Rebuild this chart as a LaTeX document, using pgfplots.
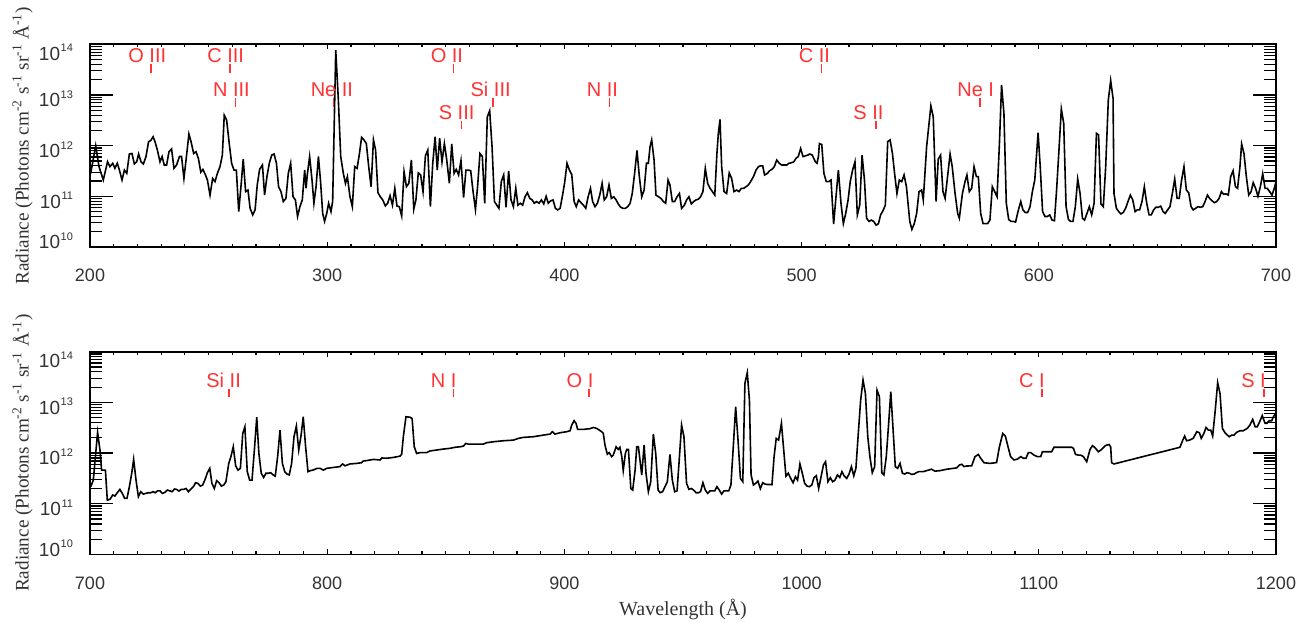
\documentclass[border=0pt]{standalone}
\usepackage{pgfplots}
\pgfplotsset{compat=1.18}
\usepackage{fontspec}
\setmainfont{Liberation Sans}
\newfontfamily\seriffont{Liberation Serif}
\definecolor{lab}{RGB}{255,51,51}
\definecolor{txt}{RGB}{51,51,51}

\newcommand{\ytl}[2]{\raisebox{#1}[0pt][0pt]{10\kern0.3pt\raisebox{4.2pt}{\fontsize{5.5}{6}\selectfont #2}}}
\newcommand{\ionmark}[3]{%
  \coordinate (P) at ({axis cs:#1,1e12} |- {rel axis cs:0,#2});
  \draw[lab, line width=0.85pt] ([yshift=-0.8pt]P) -- ([yshift=-5pt]P);
  \node[lab, anchor=base west, inner sep=0pt, font=\fontsize{10}{12}\selectfont] at ([xshift=-11.5pt]P) {#3};
}

\begin{document}
\begin{tikzpicture}
\begin{axis}[at={(45pt,-22.15pt)}, anchor=north west,
  scale only axis, width=593pt, height=101.35pt,
  ymode=log, ymin=1e10, ymax=1e14,
  ytick={1e10,1e11,1e12,1e13,1e14},
  yticklabels={\ytl{-0.9pt}{10},\ytl{-5.9pt}{11},\ytl{-5.9pt}{12},\ytl{-5.9pt}{13},\ytl{-7.9pt}{14}},
  minor ytick={2e10,3e10,4e10,5e10,6e10,7e10,8e10,9e10,2e11,3e11,4e11,5e11,6e11,7e11,8e11,9e11,2e12,3e12,4e12,5e12,6e12,7e12,8e12,9e12,2e13,3e13,4e13,5e13,6e13,7e13,8e13,9e13},
  major tick length=11.5pt, minor tick length=5.8pt,
  xtick style={/pgfplots/major tick length=2.5pt, /pgfplots/minor tick length=1.6pt},
  minor x tick num=9,
  axis line style={line width=0.8pt},
  tick style={line width=0.6pt, black},
  tick label style={font=\fontsize{9}{10}\selectfont, text=txt},
  xticklabel shift=7.5pt,
  yticklabel style={xshift=-5pt, font=\fontsize{9.5}{10}\selectfont},
  ylabel={\seriffont Radiance (Photons cm\textsuperscript{-2} s\textsuperscript{-1} sr\textsuperscript{-1} Å\textsuperscript{-1})},
  ylabel style={at={(axis description cs:-0.0569,0.5)}, anchor=center, font=\fontsize{9.6}{12}\selectfont, text=txt},
  xmin=200, xmax=700, xtick={200,300,400,500,600,700},
  xticklabels={200,300,400,500,600,700}]
\addplot[black, line width=0.8pt, mark=none] coordinates {
(200.3,2.84e11) (202.4,1.0e12) (203.8,3.85e11) (205.6,2.1e11) (207.4,4.83e11) (208.4,3.85e11) (209.6,4.48e11) (210.5,3.57e11) (211.5,4.5e11) (212.4,3.3e11) (213.5,2.1e11) (214.5,3.3e11) (215.5,2.84e11) (216.6,6.85e11) (217.7,7.0e11) (218.7,4.35e11) (219.7,4.83e11) (220.5,6.85e11) (221.5,4.8e11) (222.5,4.35e11) (223.6,6.07e11) (224.7,1.2e12) (225.6,1.26e12) (226.6,1.5e12) (227.4,1.2e12) (228.4,8.2e11) (229.5,4.8e11) (230.4,6.1e11) (231.3,4.15e11) (232.3,4.15e11) (233.3,7.6e11) (234.4,8.6e11) (235.4,3.57e11) (236.5,4.15e11) (237.7,6.1e11) (238.6,6.1e11) (239.6,2.26e11) (240.8,7.0e11) (241.7,1.7e12) (242.6,1.2e12) (243.7,7.0e11) (244.7,7.6e11) (245.7,5.6e11) (246.7,3.0e11) (247.6,3.4e11) (248.6,2.7e11) (249.5,2.1e11) (250.6,1.06e11) (251.7,2.26e11) (252.7,1.95e11) (253.7,2.84e11) (254.8,3.85e11) (255.8,6.5e11) (256.6,4.0e12) (257.6,3.2e12) (258.7,1.1e12) (259.7,4.5e11) (260.7,3.3e11) (261.7,3.3e11) (262.7,5.0e10) (263.7,1.67e11) (264.6,5.4e11) (265.6,1.24e11) (266.6,1.33e11) (267.5,5.8e10) (268.6,4.3e10) (269.6,5.4e10) (270.5,1.67e11) (271.5,3.4e11) (272.7,4.15e11) (273.6,1.06e11) (274.6,2.45e11) (275.6,4.5e11) (276.6,6.5e11) (277.6,6.85e11) (278.6,4.5e11) (279.5,1.55e11) (280.5,1.24e11) (281.5,7.9e10) (282.6,9.1e10) (283.6,2.84e11) (284.6,4.5e11) (285.6,9.8e10) (286.6,8.5e10) (287.5,4.0e10) (288.5,6.25e10) (289.5,8.5e10) (290.5,3.3e11) (291.1,1.44e11) (291.6,2.64e11) (292.6,6.1e11) (293.6,2.1e11) (294.4,7.3e10) (295.3,1.55e11) (296.3,6.1e11)
(297.2,1.95e11) (298.1,4.6e10) (298.9,3.2e10) (299.8,4.6e10) (300.6,7.3e10) (301.6,5.0e10) (302.3,8.0e10) (303.6,7.7e13) (304.7,8.0e12) (305.7,6.1e11) (306.8,2.84e11) (307.7,1.8e11) (308.5,2.45e11) (309.6,9.8e10) (310.6,6.25e10) (311.6,3.85e11) (312.6,3.57e11) (313.6,7.0e11) (314.5,1.46e12) (315.5,1.3e12) (316.5,1.1e12) (317.5,3.85e11) (318.5,1.55e11) (319.5,1.3e12) (320.4,8.2e11) (321.4,1.18e11) (322.4,9.8e10) (323.4,8.5e10) (324.5,6.5e10) (325.5,7.3e10) (326.5,1.03e11) (327.5,6.7e10) (328.5,1.44e11) (329.4,6.45e10) (330.4,6.25e10) (331.4,4.1e10) (332.4,3.07e11) (333.4,1.55e11) (334.4,1.8e11) (335.5,5.2e11) (336.5,5.6e10) (337.4,8.5e10) (338.4,2.9e11) (339.4,2.64e11) (340.4,1.24e11) (341.4,6.3e11) (342.4,8.2e11) (343.5,6.25e10) (344.5,4.5e11) (345.5,1.5e12) (346.4,3.3e11) (347.4,1.4e12) (348.4,4.8e11) (349.4,1.1e12) (350.4,5.2e11) (351.5,1.8e11) (352.5,1.08e12) (353.5,2.84e11) (354.4,3.4e11) (355.4,2.64e11) (356.4,5.06e11) (357.5,9.5e10) (358.5,3.3e11) (359.5,3.3e11) (360.5,3.2e11) (361.5,1.24e11) (362.5,5.5e10) (363.4,1.55e11) (364.4,7.0e11) (365.4,6.1e11) (366.4,7.3e10) (367.5,3.7e12) (368.5,4.9e12) (369.5,9.5e11) (370.5,7.9e10) (371.5,6.7e10) (372.4,5.8e10) (373.4,1.95e11) (374.4,2.64e11) (375.4,6.1e10) (376.5,3.16e11) (377.5,8.5e10) (378.5,6.25e10) (379.5,1.44e11) (380.4,6.7e10) (381.4,7.3e10) (382.4,6.7e10) (383.4,9.8e10) (384.4,1.18e11) (385.4,9.1e10) (386.4,8.5e10) (387.3,7.3e10) (388.3,7.9e10) (389.3,7.3e10) (390.3,8.5e10) (391.3,7.1e10) (392.3,1.0e11) (393.2,7.3e10) (394.2,8.1e10) (395.2,8.5e10) (396.2,5.8e10) (397.2,5.4e10) (398.2,5.8e10) (399.1,9.8e10) (400.1,1.86e11) (401.1,4.5e11) (402.1,3.3e11) (403.1,2.7e11) (404.1,7.9e10) (405.0,6.25e10) (406.0,8.5e10) (407.0,7.5e10) (408.0,6.7e10) (409.0,5.8e10) (410.0,9.8e10) (411.0,1.44e11) (411.9,7.9e10) (412.9,6.25e10) (413.9,7.3e10) (414.9,1.06e11) (415.9,1.8e11) (416.8,8.5e10) (417.8,9.8e10) (418.8,1.67e11) (419.8,9.1e10) (420.8,9.8e10) (421.8,8.5e10) (422.7,7.1e10) (423.7,6.1e10) (424.7,5.8e10) (425.7,5.8e10) (426.7,6.25e10) (427.7,7.3e10) (428.6,1.14e11) (429.6,2.84e11) (430.6,8.0e11) (431.6,2.45e11) (432.6,9.8e10) (433.6,1.33e11) (434.6,4.5e11) (435.4,4.5e11) (436.1,9.5e11) (436.8,1.3e12) (437.8,5.2e11)
(438.6,1.06e11) (439.7,9.8e10) (440.7,9.1e10) (441.7,7.9e10) (442.7,7.3e10) (443.7,2.1e11) (444.5,1.67e11) (445.5,7.9e10) (446.5,7.9e10) (447.5,9.8e10) (448.5,1.14e11) (449.4,5.8e10) (450.6,6.7e10) (451.5,8.5e10) (452.5,9.8e10) (453.5,7.1e10) (454.5,7.9e10) (455.5,8.5e10) (456.5,8.8e10) (457.4,9.8e10) (458.4,1.24e11) (459.4,3.57e11) (460.4,1.8e11) (461.4,1.44e11) (462.4,1.24e11) (463.4,1.06e11) (464.3,7.0e11) (464.9,1.75e12) (465.6,3.3e12) (466.3,3.85e11) (467.3,1.24e11) (468.4,1.14e11) (469.5,2.9e11) (470.5,2.26e11) (471.5,1.24e11) (472.6,1.33e11) (473.6,1.24e11) (474.6,1.44e11) (475.6,1.44e11) (476.6,1.55e11) (477.5,1.67e11) (478.5,1.95e11) (479.7,2.45e11) (480.8,3.3e11) (481.8,3.85e11) (482.7,4.0e11) (483.6,4.0e11) (484.4,2.64e11) (485.6,2.84e11) (486.5,3.2e11) (487.5,3.4e11) (488.5,3.85e11) (489.5,5.2e11) (490.6,4.5e11) (491.6,4.15e11) (492.6,4.15e11) (493.7,4.15e11) (494.7,4.5e11) (495.7,4.6e11) (496.7,4.8e11) (497.6,5.6e11) (498.6,6.1e11) (499.6,8.8e11) (500.6,6.1e11) (501.6,6.3e11) (502.6,6.5e11) (503.5,6.85e11) (504.5,6.5e11) (505.8,4.8e11) (506.5,4.5e11) (507.1,6.1e11) (507.5,1.1e12) (508.5,1.05e12) (509.4,2.84e11) (510.4,1.95e11) (511.4,1.95e11) (512.4,2.1e11) (513.5,2.85e10) (514.5,9.8e10) (515.5,3.3e11) (516.6,7.3e10) (517.6,2.9e10) (518.6,4.6e10) (519.6,8.5e10) (520.5,1.95e11) (521.5,3.3e11) (522.5,4.8e11) (523.5,4.3e10) (524.5,6.7e10) (525.5,6.5e11) (526.5,2.1e11) (527.4,3.7e10) (528.4,3.2e10) (529.4,3.4e10) (530.4,3.2e10) (531.4,2.7e10) (532.4,2.9e10) (533.3,4.3e10) (534.3,5.2e10) (535.3,6.7e10) (536.3,1.2e12) (537.3,1.3e12) (538.3,7.0e11) (539.2,2.84e11) (540.2,1.14e11) (541.2,2.1e11) (542.2,1.95e11) (543.2,2.64e11) (544.2,1.55e11) (545.6,3.2e10) (546.5,2.23e10) (547.5,2.9e10) (548.5,4.6e10) (549.5,1.24e11) (550.6,1.33e11) (551.3,8.5e10) (552.7,9.5e11) (554.5,6.1e12) (555.5,3.7e12) (556.7,7.9e10) (557.6,5.4e11) (558.6,6.5e11) (559.6,1.24e11) (560.5,9.1e10) (562.6,6.85e11) (563.5,3.85e11) (564.7,1.14e11) (565.8,4.6e10) (566.5,3.7e10) (567.8,1.14e11) (568.9,1.95e11)
(569.7,2.64e11) (570.7,1.24e11) (571.7,1.44e11) (572.7,3.85e11) (573.7,2.45e11) (574.5,2.45e11) (575.5,4.6e10) (576.5,2.9e10) (577.5,2.9e10) (578.4,2.9e10) (579.4,3.4e10) (580.4,1.55e11) (581.4,1.24e11) (582.4,9.8e10) (583.4,1.1e12) (584.3,1.57e13) (585.3,4.35e12) (586.3,7.3e10) (587.3,3.5e10) (588.3,3.2e10) (589.3,3.2e10) (590.2,3.1e10) (591.4,5.4e10) (592.4,7.9e10) (593.3,5.4e10) (594.3,4.8e10) (595.3,4.8e10) (596.3,6.25e10) (597.3,1.24e11) (598.3,2.1e11) (599.7,1.8e12) (600.6,3.85e11) (601.6,5.0e10) (602.6,4.0e10) (603.6,4.0e10) (604.6,4.3e10) (605.6,3.4e10) (606.6,3.3e10) (607.5,1.33e11) (608.5,8.2e11) (609.5,5.3e12) (610.5,2.76e12) (611.5,6.25e10) (612.5,3.5e10) (613.4,3.2e10) (614.4,3.2e10) (615.4,6.25e10) (616.4,2.2e11) (617.4,1.14e11) (618.4,3.7e10) (619.3,3.4e10) (620.3,4.6e10) (621.3,6.25e10) (622.3,4.3e10) (623.3,7.3e10) (624.3,1.75e12) (625.2,1.63e12) (626.2,7.1e10) (627.2,6.25e10) (628.2,3.85e11) (629.3,7.9e12) (630.3,1.92e13) (631.3,8.6e12) (631.7,1.14e11) (632.7,5.8e10) (633.7,5.0e10) (634.6,4.5e10) (635.6,4.8e10) (636.6,5.8e10) (637.6,7.9e10) (638.6,1.06e11) (639.6,8.5e10) (640.6,5.0e10) (641.5,5.4e10) (642.5,5.4e10) (643.5,7.9e10) (644.5,1.55e11) (645.5,7.3e10) (646.5,4.3e10) (647.4,4.3e10) (648.4,5.4e10) (649.4,6.1e10) (650.4,6.1e10) (651.4,6.4e10) (652.4,5.0e10) (653.3,4.6e10) (654.3,5.4e10) (655.3,6.25e10) (656.3,1.14e11) (657.3,2.2e11) (658.3,9.1e10) (659.2,9.1e10) (660.2,2.1e11) (661.2,3.85e11) (662.2,1.33e11) (663.2,1.18e11) (664.2,6.25e10) (665.1,5.4e10) (666.1,5.8e10) (667.1,6.25e10) (668.1,6.1e10) (669.1,6.25e10) (670.1,7.9e10) (671.1,1.06e11) (672.0,9.1e10) (673.0,8.2e10) (674.0,7.5e10) (675.0,7.9e10) (676.0,9.1e10) (677.0,1.24e11) (677.9,1.1e11) (678.9,1.12e11) (679.9,1.06e11) (680.9,2.45e11) (681.9,3.2e11) (682.9,1.55e11) (683.8,1.44e11) (684.8,3.85e11) (685.5,1.08e12) (686.5,7.0e11) (687.5,2.45e11) (688.5,1.06e11) (689.5,1.24e11) (690.4,1.86e11) (691.4,1.44e11) (692.4,1.0e11) (693.4,1.55e11) (694.4,2.8e11) (695.4,1.44e11) (696.3,1.44e11) (697.3,1.24e11) (698.3,1.06e11) (699.2,1.4e11) (700.0,1.95e11)
};
\ionmark{225.7}{0.909}{O III}
\ionmark{259.0}{0.909}{C III}
\ionmark{261.4}{0.741}{N III}
\ionmark{302.6}{0.741}{Ne II}
\ionmark{353.2}{0.909}{O II}
\ionmark{356.6}{0.631}{S III}
\ionmark{370.0}{0.741}{Si III}
\ionmark{419.0}{0.741}{N II}
\ionmark{508.4}{0.909}{C II}
\ionmark{531.4}{0.631}{S II}
\ionmark{575.2}{0.741}{Ne I}
\end{axis}

\begin{axis}[at={(45pt,-175.85pt)}, anchor=north west,
  scale only axis, width=593pt, height=101.35pt,
  ymode=log, ymin=1e10, ymax=1e14,
  ytick={1e10,1e11,1e12,1e13,1e14},
  yticklabels={\ytl{-0.9pt}{10},\ytl{-5.9pt}{11},\ytl{-5.9pt}{12},\ytl{-5.9pt}{13},\ytl{-7.9pt}{14}},
  minor ytick={2e10,3e10,4e10,5e10,6e10,7e10,8e10,9e10,2e11,3e11,4e11,5e11,6e11,7e11,8e11,9e11,2e12,3e12,4e12,5e12,6e12,7e12,8e12,9e12,2e13,3e13,4e13,5e13,6e13,7e13,8e13,9e13},
  major tick length=11.5pt, minor tick length=5.8pt,
  xtick style={/pgfplots/major tick length=2.5pt, /pgfplots/minor tick length=1.6pt},
  minor x tick num=9,
  axis line style={line width=0.8pt},
  tick style={line width=0.6pt, black},
  tick label style={font=\fontsize{9}{10}\selectfont, text=txt},
  xticklabel shift=7.5pt,
  yticklabel style={xshift=-5pt, font=\fontsize{9.5}{10}\selectfont},
  ylabel={\seriffont Radiance (Photons cm\textsuperscript{-2} s\textsuperscript{-1} sr\textsuperscript{-1} Å\textsuperscript{-1})},
  ylabel style={at={(axis description cs:-0.0569,0.5)}, anchor=center, font=\fontsize{9.6}{12}\selectfont, text=txt},
  xmin=700, xmax=1200, xtick={700,800,900,1000,1100,1200},
  xticklabels={700,800,900,1000,1100,1200},
  xlabel={\seriffont Wavelength (Å)},
  xlabel style={at={(axis description cs:0.5,-0.3015)}, anchor=base, font=\fontsize{10}{12}\selectfont, text=txt}]
\addplot[black, line width=0.8pt, mark=none] coordinates {
(700.3,2.17e11) (701.4,2.93e11) (703.2,2.56e12) (704.2,1.15e12) (704.9,4.6e11) (706.5,4.6e11) (707.3,1.18e11) (708.4,1.22e11) (709.6,1.49e11) (710.5,1.42e11) (711.5,1.65e11) (712.6,1.92e11) (713.6,1.6e11) (714.6,1.28e11) (715.6,1.28e11) (716.6,2.17e11) (717.6,4.0e11) (718.4,7.5e11) (719.4,2.93e11) (720.4,1.38e11) (721.4,1.73e11) (722.5,1.55e11) (723.5,1.6e11) (724.6,1.65e11) (725.6,1.65e11) (726.6,1.73e11) (727.5,1.65e11) (728.5,1.8e11) (729.5,1.8e11) (730.5,1.6e11) (731.5,1.67e11) (732.6,1.86e11) (733.6,1.8e11) (734.6,1.73e11) (735.6,1.95e11) (736.5,1.92e11) (737.5,1.78e11) (738.5,1.92e11) (739.5,1.92e11) (740.5,2.0e11) (741.5,1.73e11) (742.4,1.92e11) (743.6,2.17e11) (744.5,2.6e11) (745.5,2.52e11) (746.5,2.23e11) (747.5,2.34e11) (748.5,3.0e11) (749.5,4.1e11) (750.5,5.0e11) (751.4,2.52e11) (752.4,2.0e11) (753.4,2.85e11) (754.4,2.6e11) (755.4,2.23e11) (756.4,2.34e11) (757.3,2.72e11) (758.5,6.25e11) (759.4,8.5e11) (760.4,1.33e12) (761.4,5.6e11) (762.4,4.6e11) (763.4,5.0e11) (764.4,2.44e12) (765.3,3.3e12) (766.3,4.3e11) (767.3,2.93e11) (768.3,2.93e11) (769.3,1.15e12) (770.3,5.1e12) (771.2,9.8e11) (772.2,4.0e11) (773.2,3.3e11) (774.2,4.0e11) (775.2,4.0e11) (776.2,4.1e11) (777.2,3.7e11) (778.1,3.5e11) (779.1,8.5e11) (780.1,2.84e12) (781.1,6.25e11) (782.1,4.3e11) (783.1,3.85e11) (784.0,3.7e11) (785.0,6.25e11) (786.0,2.1e12) (787.0,3.4e12) (788.0,1.15e12) (789.0,2.26e12) (789.9,5.2e12) (790.9,1.33e12) (791.9,4.3e11) (792.9,4.5e11) (793.9,4.6e11) (794.9,4.8e11) (795.8,5.0e11)
(797.0,5.0e11) (798.4,4.6e11) (799.8,5.0e11) (802.6,5.2e11) (805.4,5.4e11) (806.5,6.1e11) (807.5,5.6e11) (809.6,6.1e11) (812.4,6.25e11) (814.5,6.45e11) (815.2,6.95e11) (816.6,7.1e11) (819.5,7.5e11) (822.3,7.3e11) (823.0,8.0e11) (825.1,7.9e11) (827.9,8.2e11) (830.7,8.7e11) (831.4,9.5e11) (832.1,2.1e12) (833.2,5.2e12) (834.9,5.1e12) (835.8,4.8e12) (836.7,1.33e12) (837.7,9.8e11) (839.1,1.02e12) (841.9,1.02e12) (843.3,1.1e12) (846.2,1.15e12) (849.0,1.2e12) (851.8,1.24e12) (853.9,1.3e12) (856.0,1.33e12) (857.4,1.37e12) (858.4,1.55e12) (859.5,1.5e12) (861.6,1.5e12) (865.8,1.5e12) (867.2,1.6e12) (870.0,1.67e12) (874.3,1.75e12) (878.5,1.8e12) (880.6,1.95e12) (882.7,2.04e12) (886.9,2.1e12) (891.1,2.26e12) (894.0,2.37e12) (894.9,2.64e12) (896.0,2.37e12) (898.2,2.52e12) (901.0,2.64e12) (902.4,2.76e12) (903.1,3.57e12) (904.1,4.35e12) (904.9,3.85e12) (905.6,2.93e12) (908.0,2.93e12) (910.8,3.03e12) (912.2,3.2e12) (913.6,3.07e12) (915.7,2.64e12) (916.4,2.44e12) (917.1,1.44e12) (918.1,9.5e11) (918.9,1.02e12) (919.9,8.5e11) (920.6,9.1e11) (921.8,1.33e12) (922.7,1.18e12) (923.4,1.3e12) (924.2,8.5e11) (924.8,4.5e11) (925.7,9.8e11) (926.3,1.18e12) (927.0,1.18e12) (928.0,2.0e11) (928.8,1.86e11) (929.8,4.6e11) (930.5,1.33e12) (931.2,1.33e12)
(932.6,3.7e11) (933.6,1.44e12) (934.4,4.0e11) (935.4,1.73e11) (936.4,2.72e11) (937.5,2.37e12) (938.5,9.8e11) (939.5,1.86e11) (940.4,1.65e11) (941.4,1.73e11) (942.4,2.17e11) (943.4,2.72e11) (944.5,9.4e11) (945.5,2.93e11) (946.5,1.73e11) (947.5,1.8e11) (948.5,8.5e11) (949.4,3.57e12) (950.4,2.1e12) (951.5,2.52e11) (952.5,1.92e11) (953.5,2.0e11) (954.5,1.86e11) (955.5,1.65e11) (956.5,1.65e11) (957.4,1.73e11) (958.4,2.6e11) (959.4,1.86e11) (960.4,1.6e11) (961.4,1.8e11) (962.4,1.8e11) (963.4,1.8e11) (964.3,2.17e11) (965.3,1.86e11) (966.3,1.55e11) (967.3,1.8e11) (968.3,1.8e11) (969.3,1.8e11) (970.2,2.34e11) (971.2,1.33e12) (972.2,8.2e12) (973.2,1.8e12) (974.2,3.16e11) (975.2,2.72e11) (976.1,2.37e13) (977.1,3.85e13) (978.0,1.11e13) (978.7,3.7e11) (979.7,2.34e11) (980.6,2.52e11) (981.6,2.8e11) (982.6,1.98e11) (983.6,2.6e11) (984.6,2.44e11) (985.6,2.4e11) (986.5,2.4e11) (987.5,2.37e11) (988.4,8.5e11) (989.3,1.95e12) (990.3,1.8e12) (991.5,3.85e12) (992.4,1.24e12) (993.4,3.5e11) (994.4,4.0e11) (995.4,3.16e11) (996.4,2.6e11) (997.4,3.4e11) (998.3,2.93e11) (999.3,6.1e11) (1000.3,4.0e11) (1001.3,2.52e11) (1002.3,2.23e11) (1003.3,2.17e11) (1004.3,2.34e11) (1005.2,3.26e11) (1006.2,3.57e11) (1007.2,2.0e11) (1008.2,3.4e11) (1009.2,5.8e11) (1010.1,6.75e11) (1011.1,2.72e11) (1012.1,3.26e11) (1013.1,2.72e11) (1014.1,2.93e11) (1015.1,3.7e11) (1016.1,3.3e11) (1017.0,4.3e11) (1018.0,3.5e11) (1019.0,3.16e11) (1020.0,3.85e11) (1021.0,5.4e11) (1022.0,3.57e11) (1022.9,5.0e11) (1023.9,2.44e12) (1024.9,1.11e13) (1025.9,2.76e13) (1026.9,1.5e13) (1027.9,2.1e12) (1028.8,8.5e11) (1029.8,4.1e11) (1030.8,5.4e11) (1031.8,1.75e13) (1032.8,1.3e13) (1033.8,4.1e11) (1034.7,3.7e11) (1035.7,8.5e11) (1036.7,3.85e12) (1037.6,1.63e13) (1038.5,3.3e12) (1039.5,5.4e11) (1040.5,5.0e11) (1041.5,6.25e11) (1042.5,4.0e11) (1043.5,3.85e11) (1044.4,4.1e11) (1045.4,4.0e11) (1046.4,3.8e11) (1047.4,3.85e11) (1048.4,4.1e11) (1049.4,4.3e11) (1051.3,4.3e11) (1053.4,4.6e11) (1054.8,4.8e11) (1056.2,4.4e11) (1058.4,4.5e11) (1061.2,4.8e11) (1064.0,5.0e11) (1065.4,5.1e11) (1066.5,5.8e11) (1067.5,6.0e11) (1068.5,5.4e11)
(1069.6,5.55e11) (1071.7,5.6e11) (1073.1,8.5e11) (1074.5,9.4e11) (1075.5,7.9e11) (1076.9,6.45e11) (1079.4,6.25e11) (1082.2,6.5e11) (1083.4,1.33e12) (1084.8,2.44e12) (1085.9,2.17e12) (1087.2,1.24e12) (1088.1,8.5e11) (1089.5,7.3e11) (1091.0,7.6e11) (1092.4,8.5e11) (1093.5,7.9e11) (1094.6,7.9e11) (1095.6,1.02e12) (1096.6,1.02e12) (1098.0,9.1e11) (1099.4,8.5e11) (1100.8,8.5e11) (1101.5,1.06e12) (1103.3,1.06e12) (1105.4,1.06e12) (1106.4,1.3e12) (1109.0,1.3e12) (1111.8,1.3e12) (1113.9,1.3e12) (1114.6,1.24e12) (1115.5,9.4e11) (1116.7,9.1e11) (1117.7,9.1e11) (1118.8,8.5e11) (1120.2,6.75e11) (1121.6,1.18e12) (1122.6,1.4e12) (1123.7,1.28e12) (1125.1,1.06e12) (1126.5,1.18e12) (1128.0,1.4e12) (1129.6,1.48e12) (1130.3,1.33e12) (1130.7,6.45e11) (1131.7,6.1e11) (1159.5,1.3e12) (1160.7,1.8e12) (1161.5,2.17e12) (1162.3,1.75e12) (1163.5,1.8e12) (1165.1,1.95e12) (1166.6,2.64e12) (1167.7,2.52e12) (1168.5,1.95e12) (1169.6,2.44e12) (1170.5,3.2e12) (1171.5,2.84e12) (1172.5,2.84e12) (1173.3,2.17e12) (1174.4,7.1e12) (1175.4,2.44e13) (1176.4,1.5e13) (1177.4,3.07e12) (1178.5,2.52e12) (1179.5,2.26e12) (1180.3,2.1e12) (1181.3,2.26e12) (1182.3,2.26e12) (1183.4,2.56e12) (1184.8,2.76e12) (1186.2,2.76e12) (1187.9,3.07e12) (1189.0,3.57e12) (1190.2,4.6e12) (1191.2,3.3e12) (1192.1,3.3e12) (1193.3,4.35e12) (1194.2,5.5e12) (1195.4,3.85e12) (1196.1,3.85e12) (1197.2,4.35e12) (1198.2,4.35e12) (1198.9,5.2e12) (1200.0,6.25e12)
};
\ionmark{758.6}{0.824}{Si II}
\ionmark{853.2}{0.824}{N I}
\ionmark{910.5}{0.824}{O I}
\ionmark{1101.2}{0.824}{C I}
\ionmark{1194.9}{0.824}{S I}
\end{axis}
\pgfresetboundingbox
\useasboundingbox (0,0) rectangle (653pt,-311pt);
\end{tikzpicture}
\end{document}
